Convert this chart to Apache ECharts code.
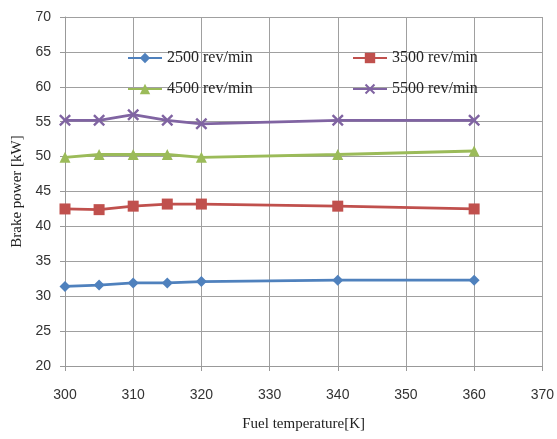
<!DOCTYPE html>
<html><head><meta charset="utf-8">
<script src="https://cdn.jsdelivr.net/npm/echarts@6/dist/echarts.min.js"></script>
<style>html,body{margin:0;padding:0;background:#fff}#c{width:557px;height:439px}</style>
</head><body><div id="c"></div>
<script>
const temps = [300, 305, 310, 315, 320, 340, 360];
const s2500 = [31.4, 31.6, 31.9, 31.9, 32.1, 32.3, 32.3];
const s3500 = [42.5, 42.4, 42.9, 43.2, 43.2, 42.9, 42.5];
const s4500 = [49.9, 50.3, 50.3, 50.3, 49.9, 50.3, 50.8];
const s5500 = [55.2, 55.2, 56.0, 55.2, 54.7, 55.2, 55.2];
const names = ['2500 rev/min', '3500 rev/min', '4500 rev/min', '5500 rev/min'];
const colors = ['#4F81BD', '#C0504D', '#9BBB59', '#8064A2'];
const xPath = 'path://M0,1.4 L1.4,0 L5,3.6 L8.6,0 L10,1.4 L6.4,5 L10,8.6 L8.6,10 L5,6.4 L1.4,10 L0,8.6 L3.6,5 Z';
const symbols = ['diamond', 'rect', 'triangle', xPath];
const sizes = [11, 11, 11, 12];
const dataSets = [s2500, s3500, s4500, s5500];

const chart = echarts.init(document.getElementById('c'));
const legendPos = [[122, 45], [347, 45], [122, 76], [347, 76]];
chart.setOption({
  animation: false,
  grid: {left: 65, right: 13, top: 17, bottom: 73},
  legend: names.map((n, i) => ({
    data: [n], left: legendPos[i][0], top: legendPos[i][1],
    itemWidth: 34, itemHeight: 13, itemGap: 1,
    textStyle: {fontFamily: 'Liberation Serif', fontSize: 16, color: '#222'}
  })),
  xAxis: {
    type: 'value', min: 300, max: 370, interval: 10,
    name: 'Fuel temperature[K]', nameLocation: 'middle', nameGap: 51,
    nameTextStyle: {fontFamily: 'Liberation Serif', fontSize: 15, color: '#222'},
    axisLine: {show: true, lineStyle: {color: '#999'}},
    axisTick: {show: true, length: 5, lineStyle: {color: '#999'}},
    axisLabel: {fontFamily: 'Liberation Sans', fontSize: 14, color: '#333', margin: 22},
    splitLine: {show: true, lineStyle: {color: '#a0a0a0', width: 1}}
  },
  yAxis: {
    type: 'value', min: 20, max: 70, interval: 5,
    name: 'Brake power [kW]', nameLocation: 'middle', nameGap: 38,
    nameTextStyle: {fontFamily: 'Liberation Serif', fontSize: 15, color: '#222'},
    axisLine: {show: true, lineStyle: {color: '#999'}},
    axisTick: {show: true, length: 5, lineStyle: {color: '#999'}},
    axisLabel: {fontFamily: 'Liberation Sans', fontSize: 14, color: '#333', margin: 14},
    splitLine: {show: true, lineStyle: {color: '#a0a0a0', width: 1}}
  },
  series: names.map((n, i) => ({
    name: n, type: 'line',
    data: temps.map((t, j) => [t, dataSets[i][j]]),
    symbol: symbols[i], symbolSize: sizes[i], showSymbol: true,
    lineStyle: {color: colors[i], width: 2.8},
    itemStyle: {color: colors[i]}
  }))
});
</script></body></html>
